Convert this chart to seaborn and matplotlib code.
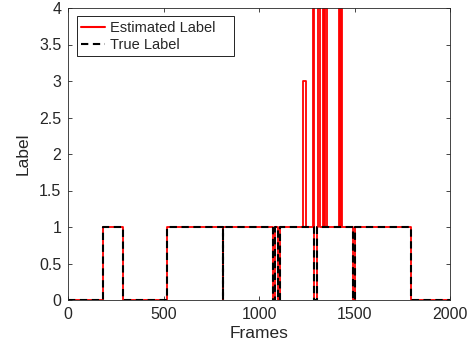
import matplotlib
matplotlib.use("Agg")
import matplotlib.pyplot as plt
import seaborn as sns
import pandas as pd

# Change points (frame where a new label value starts) and label values
true_frames = [0, 181, 289, 519, 808, 813, 1073, 1083, 1100, 1110, 1285, 1302, 1494, 1502, 1795, 2000]
true_labels = [0, 1, 0, 1, 0, 1, 0, 1, 0, 1, 0, 1, 0, 1, 0, 0]

est_frames = [0, 181, 289, 519, 808, 813, 1073, 1083, 1100, 1110, 1230, 1246,
              1282, 1288, 1302, 1306, 1321, 1335, 1342, 1346, 1353, 1420, 1425, 1428, 1434,
              1494, 1502, 1795, 2000]
est_labels = [0, 1, 0, 1, 0, 1, 0, 1, 0, 1, 3, 1,
              4, 0, 1, 4, 1, 4, 1, 4, 1, 4, 1, 4, 1,
              0, 1, 0, 0]

x_ticks = [0, 500, 1000, 1500, 2000]
y_ticks = [0, 0.5, 1, 1.5, 2, 2.5, 3, 3.5, 4]

sns.set_style("ticks")
plt.rcParams["font.family"] = ["Liberation Sans", "DejaVu Sans"]
txt = "#262626"

fig = plt.figure(figsize=(4.69, 3.54), dpi=100)
ax = fig.add_axes([68.3 / 469, 1 - 300 / 354, (450 - 68.3) / 469, (300 - 8) / 354])

est_df = pd.DataFrame({"Frames": est_frames, "Label": est_labels})
true_df = pd.DataFrame({"Frames": true_frames, "Label": true_labels})

sns.lineplot(data=est_df, x="Frames", y="Label", ax=ax, estimator=None, sort=False,
             drawstyle="steps-post", color="#ff0000", linewidth=1.3, label="Estimated Label")
sns.lineplot(data=true_df, x="Frames", y="Label", ax=ax, estimator=None, sort=False,
             drawstyle="steps-post", color="black", linewidth=1.5, linestyle=(0, (3.5, 2.2)),
             label="True Label")

ax.set_xlim(0, 2000)
ax.set_ylim(0, 4)
ax.set_xticks(x_ticks)
ax.set_xticklabels([str(v) for v in x_ticks])
ax.set_yticks(y_ticks)
ax.set_yticklabels(["0", "0.5", "1", "1.5", "2", "2.5", "3", "3.5", "4"])
ax.tick_params(direction="in", length=3, width=0.6, colors=txt, labelsize=11.5,
               top=True, right=True, pad=5)
for s in ax.spines.values():
    s.set_visible(True)
    s.set_color(txt)
    s.set_linewidth(0.6)
ax.set_xlabel("Frames", fontsize=12.5, color=txt, labelpad=3)
ax.set_ylabel("Label", fontsize=12.5, color=txt, labelpad=6)

leg = ax.legend(loc="upper left", bbox_to_anchor=(0.022, 0.0, 0.412, 0.9716), mode="expand",
                fontsize=10.5, frameon=True, fancybox=False, edgecolor="black", framealpha=1,
                borderpad=0.3, labelspacing=0.22, handlelength=1.65, handletextpad=0.3,
                borderaxespad=0)
leg.get_frame().set_linewidth(0.6)
for h in leg.legend_handles:
    h.set_linewidth(1.5)

fig.savefig("out.png", dpi=100)
